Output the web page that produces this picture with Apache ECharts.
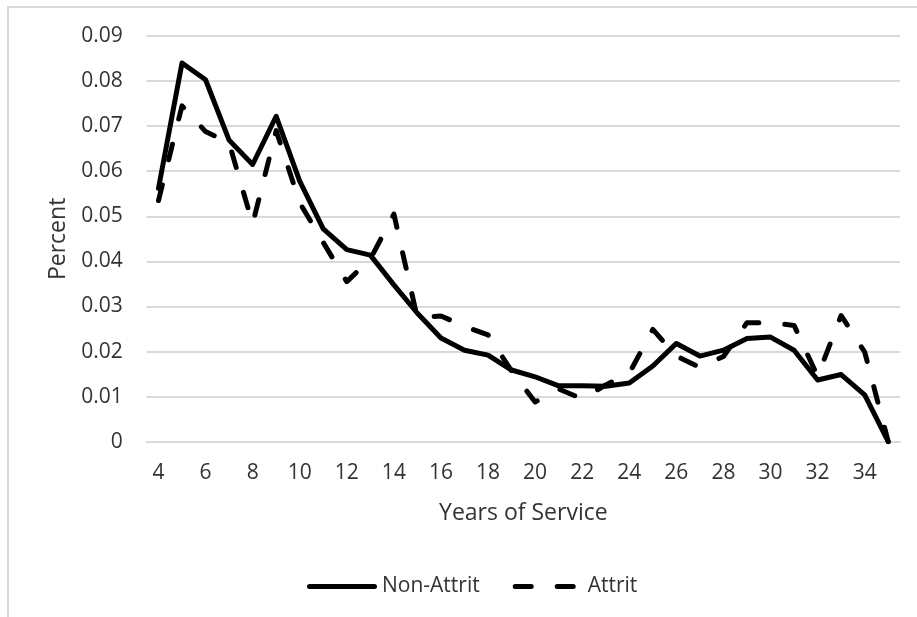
<!DOCTYPE html>
<html>
<head>
<meta charset="utf-8">
<title>Years of Service</title>
<script src="https://cdn.jsdelivr.net/npm/echarts@6/dist/echarts.min.js"></script>
<style>
  html, body { margin: 0; padding: 0; background: #ffffff; }
  #chart { width: 917px; height: 617px; }
</style>
</head>
<body>
<div id="chart"></div>
<script>
// Years of service (category axis)
const years = ['4','5','6','7','8','9','10','11','12','13','14','15','16','17','18','19',
               '20','21','22','23','24','25','26','27','28','29','30','31','32','33','34','35'];

// Share of each group by years of service
const nonAttrit = [0.0562, 0.0840, 0.0803, 0.0669, 0.0615, 0.0722, 0.0578, 0.0472,
                   0.0426, 0.0414, 0.0348, 0.0285, 0.0230, 0.0203, 0.0192, 0.0159,
                   0.0144, 0.0124, 0.0124, 0.0123, 0.0130, 0.0168, 0.0218, 0.0190,
                   0.0203, 0.0229, 0.0232, 0.0203, 0.0137, 0.0149, 0.0104, 0.0000];

const attrit = [0.0535, 0.0745, 0.0688, 0.0663, 0.0483, 0.0690, 0.0530, 0.0442,
                0.0355, 0.0405, 0.0505, 0.0274, 0.0279, 0.0256, 0.0237, 0.0157,
                0.0088, 0.0117, 0.0095, 0.0126, 0.0152, 0.0249, 0.0190, 0.0165,
                0.0189, 0.0264, 0.0264, 0.0258, 0.0145, 0.0280, 0.0199, 0.0000];

const seriesNames = ['Non-Attrit', 'Attrit'];
const axisTitles = { x: 'Years of Service', y: 'Percent' };

const FONT = '"Open Sans", "Noto Sans", sans-serif';
const TEXT = '#333333';
const GRID = '#d9d9d9';

// Legend keys: a solid bar and two rounded dashes, both spanning a 70x5 box
const ICON_SOLID = 'path://M2.5,0H67.5A2.5,2.5 0 0 1 67.5,5H2.5A2.5,2.5 0 0 1 2.5,0Z';
const ICON_DASHED = 'path://M2.5,0H18.5A2.5,2.5 0 0 1 18.5,5H2.5A2.5,2.5 0 0 1 2.5,0Z' +
                    'M44.5,0H60.5A2.5,2.5 0 0 1 60.5,5H44.5A2.5,2.5 0 0 1 44.5,0Z' +
                    'M0,0L0,0M70,5L70,5';

const chart = echarts.init(document.getElementById('chart'), null, { renderer: 'canvas' });

chart.setOption({
  animation: false,
  backgroundColor: '#ffffff',
  textStyle: { fontFamily: FONT, color: TEXT },
  graphic: [{
    type: 'rect',
    silent: true,
    shape: { x: 8, y: 7, width: 1000, height: 1000 },
    style: { fill: 'none', stroke: GRID, lineWidth: 2 }
  }],
  grid: { left: 146.7, right: 17, top: 36, bottom: 175.3, containLabel: false },
  legend: {
    left: 302,
    top: 571,
    itemWidth: 70,
    itemHeight: 5,
    itemGap: 33,
    symbolKeepAspect: false,
    textStyle: { fontFamily: FONT, fontSize: 21, color: TEXT },
    data: [
      { name: seriesNames[0], icon: ICON_SOLID, itemStyle: { color: '#000000' } },
      { name: seriesNames[1], icon: ICON_DASHED, itemStyle: { color: '#000000' } }
    ]
  },
  xAxis: {
    type: 'category',
    data: years,
    boundaryGap: true,
    name: axisTitles.x,
    nameLocation: 'middle',
    nameGap: 60,
    nameTextStyle: { fontFamily: FONT, fontSize: 23, color: TEXT },
    axisLine: { show: true, lineStyle: { color: GRID, width: 2 } },
    axisTick: { show: false },
    axisLabel: { interval: 1, margin: 21, fontFamily: FONT, fontSize: 21, color: TEXT },
    splitLine: { show: false }
  },
  yAxis: {
    type: 'value',
    min: 0,
    max: 0.09,
    interval: 0.01,
    name: axisTitles.y,
    nameLocation: 'middle',
    nameGap: 75,
    nameTextStyle: { fontFamily: FONT, fontSize: 23, color: TEXT },
    axisLine: { show: false },
    axisTick: { show: false },
    axisLabel: {
      margin: 24,
      fontFamily: FONT,
      fontSize: 21,
      color: TEXT,
      formatter: v => (Math.abs(v) < 1e-9 ? '0' : v.toFixed(2))
    },
    splitLine: { show: true, lineStyle: { color: GRID, width: 2 } }
  },
  series: [
    {
      name: seriesNames[0],
      type: 'line',
      data: nonAttrit,
      showSymbol: false,
      symbol: 'none',
      lineStyle: { color: '#000000', width: 5, cap: 'round', join: 'round' },
      itemStyle: { color: '#000000' }
    },
    {
      name: seriesNames[1],
      type: 'line',
      data: attrit,
      showSymbol: false,
      symbol: 'none',
      lineStyle: { color: '#000000', width: 5, type: [16, 26], cap: 'round', join: 'round' },
      itemStyle: { color: '#000000' }
    }
  ]
});
</script>
</body>
</html>
